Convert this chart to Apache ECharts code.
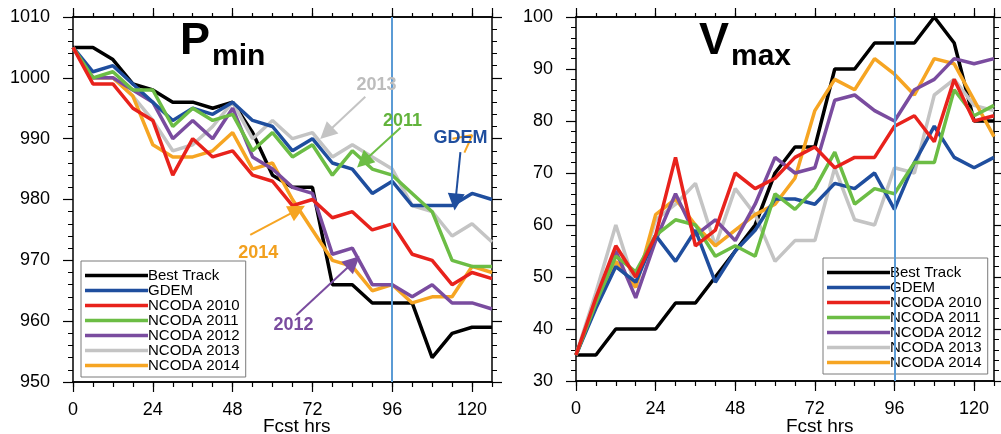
<!DOCTYPE html>
<html><head><meta charset="utf-8">
<script src="https://cdn.jsdelivr.net/npm/echarts@6/dist/echarts.min.js"></script>
<style>html,body{margin:0;padding:0;background:#fff}#c{width:1001px;height:434px}</style>
</head><body><div id="c"></div>
<script>
// ---------- data ----------
const hours = [0,6,12,18,24,30,36,42,48,54,60,66,72,78,84,90,96,102,108,114,120,126];
const seriesNames = ['Best Track','GDEM','NCODA 2010','NCODA 2011','NCODA 2012','NCODA 2013','NCODA 2014'];

const pminBest = [1005,1005,1003,999,998,996,996,995,996,991,984,982,982,966,966,963,963,963,954,958,959,959];
const pminGDEM = [1005,1001,1002,999,996,993,995,994,996,993,992,988,990,986,985,981,983,979,979,979,981,980];
const pmin2010 = [1005,999,999,995,993,984,990,987,988,984,983,979,980,977,978,975,976,971,970,966,968,967];
const pmin2011 = [1005,1000,1001,998,998,992,995,993,994,988,991,987,989,984,988,985,984,981,978,970,969,969];
const pmin2012 = [1005,1000,1000,998,996,990,993,990,995,987,985,982,981,971,972,966,966,964,966,963,963,962];
const pmin2013 = [1005,1000,1000,997,993,988,989,992,996,990,993,990,991,987,989,987,985,979,978,974,976,973];
const pmin2014 = [1005,1000,1000,997,989,987,987,988,991,985,986,980,975,970,969,965,966,963,964,964,969,968];

const vmaxBest = [35,35,40,40,40,45,45,50,55,60,70,75,75,90,90,95,95,95,100,95,80,80];
const vmaxGDEM = [35,44,52,49,58,53,59,49,55,59,65,65,64,68,67,70,63,72,79,73,71,73];
const vmax2010 = [35,46,56,50,58,73,56,59,70,67,69,73,75,71,73,73,79,81,76,88,80,81];
const vmax2011 = [35,45,54,51,58,61,60,54,56,54,66,63,67,74,64,67,66,72,72,86,81,83];
const vmax2012 = [35,45,55,46,57,66,58,61,57,64,73,70,71,84,85,82,80,86,88,92,91,92];
const vmax2013 = [35,47,60,48,61,64,68,56,67,62,53,57,57,71,61,60,71,70,85,88,83,82];
const vmax2014 = [35,45,53,48,62,65,60,56,59,62,64,69,82,88,86,92,89,85,92,91,84,77];

const xRange = {min:0, max:126, major:24, minor:6};
const pminRange = {min:950, max:1010, interval:10};
const vmaxRange = {min:30, max:100, interval:10};
const markHour = 96;

// annotation texts and arrows (data coordinates of left panel)
const annText = [
  {text:'2013', hr:91.3, v:998.8, color:'#bdbdbd'},
  {text:'2011', hr:99.1, v:992.9, color:'#62b33c'},
  {text:'GDEM', hr:116.5, v:990.1, color:'#1f4e9e'},
  {text:'2014', hr:55.7, v:971.2, color:'#f2a01e'},
  {text:'2012', hr:66.3, v:959.4, color:'#7a4c9f'}
];
const annArrows = [
  {from:[87.9,996.9], to:[76.2,990.9], color:'#c4c4c4'},
  {from:[98.5,991.8], to:[87.3,986.2], color:'#6cbd45'},
  {from:[116.5,987.8], to:[115.0,979.6], color:'#1f4e9e'},
  {from:[53.3,974.2], to:[67.5,978.3], color:'#f6a523'},
  {from:[67.2,961.0], to:[84.3,969.7], color:'#7a4c9f'}
];
const annStrokes = [
  {from:[114.1,990.0], to:[120.1,990.6], color:'#f6a523'},
  {from:[120.1,990.6], to:[117.7,987.7], color:'#f6a523'}
];

// ---------- styles ----------
const FONT = "'Liberation Sans', Arial, Helvetica, sans-serif";
const colors = {
  'Best Track':'#000000','GDEM':'#1f4e9e','NCODA 2010':'#e8221c','NCODA 2011':'#6cbd45',
  'NCODA 2012':'#7a4c9f','NCODA 2013':'#c4c4c4','NCODA 2014':'#f6a523'
};
const pminData = {'Best Track':pminBest,'GDEM':pminGDEM,'NCODA 2010':pmin2010,'NCODA 2011':pmin2011,'NCODA 2012':pmin2012,'NCODA 2013':pmin2013,'NCODA 2014':pmin2014};
const vmaxData = {'Best Track':vmaxBest,'GDEM':vmaxGDEM,'NCODA 2010':vmax2010,'NCODA 2011':vmax2011,'NCODA 2012':vmax2012,'NCODA 2013':vmax2013,'NCODA 2014':vmax2014};
const drawOrder = ['Best Track','NCODA 2013','NCODA 2014','NCODA 2012','GDEM','NCODA 2011','NCODA 2010'];
const vline = '#5b9bd5';

function xAx(grid, pos, interval, len, labels) {
  return {type:'value', gridIndex:grid, position:pos, min:xRange.min, max:xRange.max, interval:interval,
    axisLine:{show:true, onZero:false, lineStyle:{color:'#000', width:1.5}},
    axisTick:{show:true, inside:false, length:len, lineStyle:{color:'#000', width:1.2}},
    axisLabel:{show:labels, margin:19, fontSize:18, color:'#000', fontFamily:FONT, showMaxLabel:false,
      formatter:v => String(v)},
    splitLine:{show:false}, minorTick:{show:false}};
}
function yAx(grid, pos, r, labels) {
  return {type:'value', gridIndex:grid, position:pos, min:r.min, max:r.max, interval:r.interval,
    axisLine:{show:true, onZero:false, lineStyle:{color:'#000', width:1.5}},
    axisTick:{show:true, inside:false, length:10, lineStyle:{color:'#000', width:1.2}},
    minorTick:{show:true, splitNumber:5, length:5, lineStyle:{color:'#000', width:1}},
    axisLabel:{show:labels, margin:23, fontSize:18, color:'#000', fontFamily:FONT, formatter:v => String(v)},
    splitLine:{show:false}, minorSplitLine:{show:false}};
}
function legendAt(left, top) {
  return {orient:'vertical', left:left, top:top, data:seriesNames, icon:'rect',
    itemWidth:63, itemHeight:3.5, itemGap:0, padding:[7,6,4,4],
    borderColor:'#7a7a7a', borderWidth:1, selectedMode:false,
    textStyle:{fontSize:15, color:'#000', fontFamily:FONT, lineHeight:15, padding:[0,0,0,-5]}};
}

const series = [];
drawOrder.forEach((name, k) => {
  const c = colors[name];
  const common = {type:'line', name:name, symbol:'none', showSymbol:false, silent:true, z:2+k*0.01,
    color:c, lineStyle:{color:c, width:3.5}, itemStyle:{color:c}, animation:false};
  series.push(Object.assign({}, common, {xAxisIndex:0, yAxisIndex:0, data:hours.map((h,i)=>[h, pminData[name][i]])}));
  series.push(Object.assign({}, common, {xAxisIndex:4, yAxisIndex:2, data:hours.map((h,i)=>[h, vmaxData[name][i]])}));
});

function seg(a, width, endSymbol) {
  return [
    {coord:a.from, symbol:'none', lineStyle:{color:a.color, width:width, type:'solid'}},
    {coord:a.to, symbol:endSymbol, symbolSize:17, itemStyle:{color:a.color}, lineStyle:{color:a.color, width:width, type:'solid'}}
  ];
}

series.push({type:'line', name:'annotLeft', xAxisIndex:0, yAxisIndex:0, data:[], z:10, silent:true,
  markLine:{silent:true, animation:false, symbol:['none','none'], symbolSize:[1,17], label:{show:false},
    data:[{xAxis:markHour, lineStyle:{color:vline, width:2, type:'solid'}}]
      .concat(annArrows.map(a=>seg(a, 2, 'triangle')))
      .concat(annStrokes.map(a=>seg(a, 2, 'none')))},
  markPoint:{silent:true, animation:false,
    data:annText.map(t=>({coord:[t.hr,t.v], symbol:'circle', symbolSize:1, itemStyle:{color:'rgba(0,0,0,0)'},
      label:{show:true, position:'inside', formatter:t.text, color:t.color, fontSize:18, fontWeight:'bold', fontFamily:FONT}}))}
});
series.push({type:'line', name:'annotRight', xAxisIndex:4, yAxisIndex:2, data:[], z:10, silent:true,
  markLine:{silent:true, animation:false, symbol:['none','none'], label:{show:false},
    data:[{xAxis:markHour, lineStyle:{color:vline, width:2, type:'solid'}}]}
});

const titleFont = s => 'bold ' + s + 'px ' + FONT;
const option = {
  animation:false,
  backgroundColor:'#fff',
  textStyle:{fontFamily:FONT},
  grid:[{left:73, top:17, width:419, height:365}, {left:576, top:17, width:418, height:364}],
  xAxis:[
    xAx(0,'bottom',xRange.major,10,true), xAx(0,'bottom',xRange.minor,5,false),
    xAx(0,'top',xRange.major,9,false), xAx(0,'top',xRange.minor,4,false),
    xAx(1,'bottom',xRange.major,10,true), xAx(1,'bottom',xRange.minor,5,false),
    xAx(1,'top',xRange.major,9,false), xAx(1,'top',xRange.minor,4,false)
  ],
  yAxis:[
    yAx(0,'left',pminRange,true), yAx(0,'right',pminRange,false),
    yAx(1,'left',vmaxRange,true), yAx(1,'right',vmaxRange,false)
  ],
  legend:[legendAt(81,261), legendAt(823,258)],
  series:series,
  graphic:[
    {type:'text', left:180, top:19, z:20, style:{text:'P', font:titleFont(45), fill:'#000'}},
    {type:'text', left:212, top:42, z:20, style:{text:'min', font:titleFont(30), fill:'#000'}},
    {type:'text', left:699, top:19, z:20, style:{text:'V', font:titleFont(45), fill:'#000'}},
    {type:'text', left:731, top:42, z:20, style:{text:'max', font:titleFont(30), fill:'#000'}},
    {type:'text', left:263, top:417, z:20, style:{text:'Fcst hrs', font:'19px ' + FONT, fill:'#000'}},
    {type:'text', left:786, top:417, z:20, style:{text:'Fcst hrs', font:'19px ' + FONT, fill:'#000'}}
  ]
};
const chart = echarts.init(document.getElementById('c'), null, {renderer:'canvas'});
chart.setOption(option);
</script></body></html>
